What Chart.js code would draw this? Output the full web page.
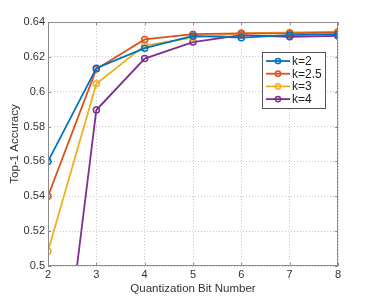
<!DOCTYPE html>
<html>
<head>
<meta charset="utf-8">
<script src="https://cdn.jsdelivr.net/npm/chart.js@4/dist/chart.umd.min.js"></script>
<style>
  html, body { margin: 0; padding: 0; background: #fff; }
  #wrap { width: 374px; height: 299px; }
</style>
</head>
<body>
<div id="wrap"><canvas id="grafico"></canvas></div>
<script>
const bits = [2, 3, 4, 5, 6, 7, 8]
const k2 = [0.560, 0.6135, 0.625, 0.632, 0.631, 0.6325, 0.633]
const k25 = [0.540, 0.613, 0.630, 0.633, 0.6335, 0.6335, 0.634]
const k3 = [0.5085, 0.6045, 0.6265, 0.631, 0.6335, 0.634, 0.6345]
const k4 = [0.3655, 0.5895, 0.619, 0.6285, 0.6325, 0.6315, 0.632]
const nombres = ['k=2', 'k=2.5', 'k=3', 'k=4']
const colores = ['#0072BD', '#D95319', '#EDB120', '#7E2F8E']
const yTicks = [0.5, 0.52, 0.54, 0.56, 0.58, 0.6, 0.62, 0.64]

const fuente = "'Liberation Sans', Arial, sans-serif"

const serie = (label, valores, color) => ({
    label: label,
    data: bits.map((b, i) => ({ x: b, y: valores[i] })),
    borderColor: color,
    backgroundColor: color,
    pointBackgroundColor: 'rgba(255,255,255,0)',
    pointBorderColor: color,
    pointRadius: 3,
    pointBorderWidth: 1.5,
    borderWidth: 1.8,
    tension: 0
})

// caja, marcas hacia dentro y leyenda dentro del area
const marco = {
    id: 'marco',
    afterDraw(chart) {
        const { ctx, chartArea: a, scales } = chart
        ctx.save()
        ctx.strokeStyle = '#8c8c8c'
        ctx.lineWidth = 1
        ctx.strokeRect(a.left + 0.5, a.top + 0.5, a.right - a.left - 1, a.bottom - a.top - 1)
        ctx.beginPath()
        bits.forEach(b => {
            const x = Math.round(scales.x.getPixelForValue(b)) + 0.5
            ctx.moveTo(x, a.bottom); ctx.lineTo(x, a.bottom - 3)
            ctx.moveTo(x, a.top); ctx.lineTo(x, a.top + 3)
        })
        yTicks.forEach(v => {
            const y = Math.round(scales.y.getPixelForValue(v)) + 0.5
            ctx.moveTo(a.left, y); ctx.lineTo(a.left + 3, y)
            ctx.moveTo(a.right, y); ctx.lineTo(a.right - 3, y)
        })
        ctx.stroke()

        // leyenda
        const lx = 262, ly = 52, lw = 63, lh = 56
        ctx.fillStyle = '#fff'
        ctx.fillRect(lx, ly, lw, lh)
        ctx.strokeStyle = '#555'
        ctx.strokeRect(lx + 0.5, ly + 0.5, lw, lh)
        ctx.font = '12px ' + fuente
        ctx.textBaseline = 'middle'
        chart.data.datasets.forEach((ds, i) => {
            const y = ly + 9 + i * 12.7
            ctx.strokeStyle = ds.borderColor
            ctx.lineWidth = 1.8
            ctx.beginPath(); ctx.moveTo(lx + 4, y); ctx.lineTo(lx + 28, y); ctx.stroke()
            ctx.lineWidth = 1.5
            ctx.beginPath(); ctx.arc(lx + 16, y, 2.6, 0, Math.PI * 2); ctx.stroke()
            ctx.fillStyle = '#222'
            ctx.fillText(ds.label, lx + 30, y + 0.5)
        })
        ctx.restore()
    }
}

new Chart(document.getElementById('grafico'), {
    type: 'line',
    data: {
        datasets: [
            serie(nombres[0], k2, colores[0]),
            serie(nombres[1], k25, colores[1]),
            serie(nombres[2], k3, colores[2]),
            serie(nombres[3], k4, colores[3])
        ]
    },
    options: {
        responsive: true,
        maintainAspectRatio: false,
        animation: false,
        layout: { padding: { top: 22, right: 36, left: 8, bottom: 0 } },
        plugins: {
            legend: { display: false },
            tooltip: { enabled: false }
        },
        scales: {
            x: {
                type: 'linear',
                min: 2,
                max: 8,
                afterBuildTicks: s => { s.ticks = bits.map(v => ({ value: v })) },
                afterFit: s => { s.height = 33 },
                grid: { color: '#c8c8c8', drawTicks: false, lineWidth: 1 },
                border: { display: false, dash: [1, 2] },
                ticks: { color: '#333', font: { family: fuente, size: 11 }, padding: 2, maxRotation: 0 },
                title: { display: true, text: 'Quantization Bit Number', color: '#333', font: { family: fuente, size: 11.5 }, padding: { top: 0, bottom: 3 } }
            },
            y: {
                min: 0.5,
                max: 0.64,
                afterBuildTicks: s => { s.ticks = yTicks.map(v => ({ value: v })) },
                afterFit: s => { s.width = 40 },
                grid: { color: '#c8c8c8', drawTicks: false, lineWidth: 1 },
                border: { display: false, dash: [1, 2] },
                ticks: { color: '#333', font: { family: fuente, size: 11 }, padding: 3, callback: v => String(Math.round(v * 100) / 100) },
                title: { display: true, text: 'Top-1 Accuracy', color: '#333', font: { family: fuente, size: 11.5 }, padding: { top: 0, bottom: 0 } }
            }
        }
    },
    plugins: [marco]
})
</script>
</body>
</html>
